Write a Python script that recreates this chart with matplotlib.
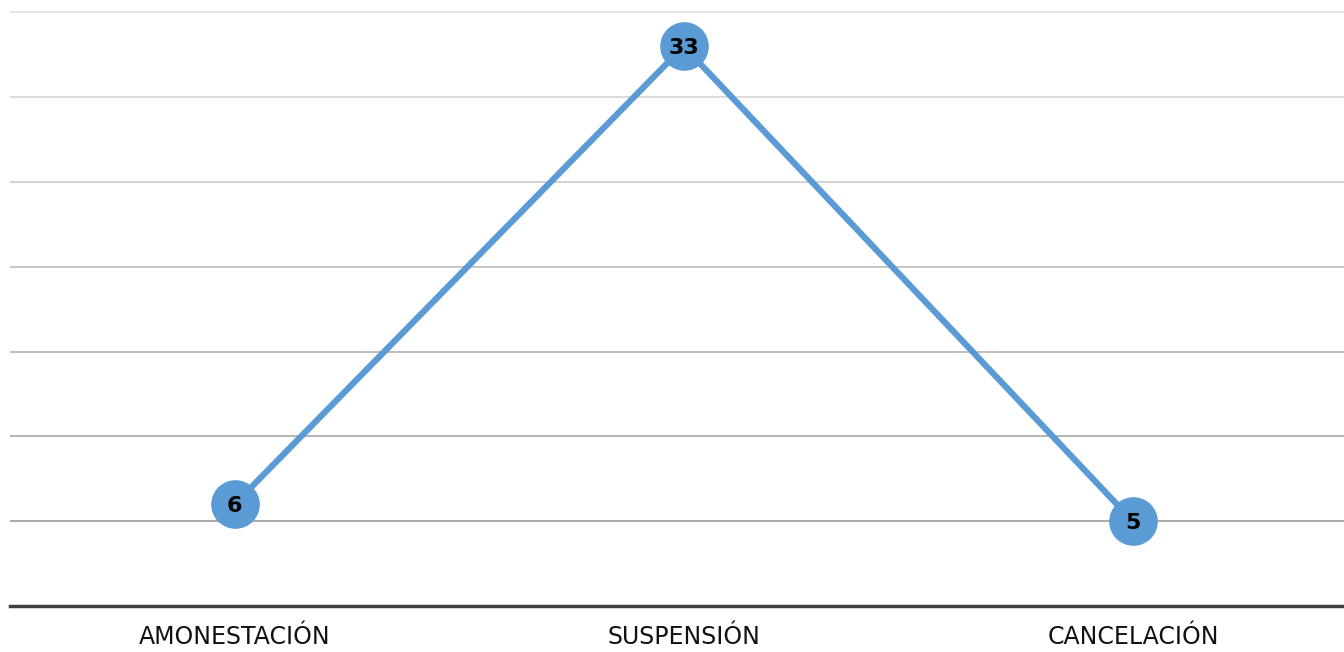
import numpy as np
import matplotlib.pyplot as plt

categories = ['AMONESTACIÓN', 'SUSPENSIÓN', 'CANCELACIÓN']
values = [6, 33, 5]
grid_levels = [5, 10, 15, 20, 25, 30, 35]

fig = plt.figure(figsize=(13.44, 6.52), dpi=100)
ax = fig.add_axes([10 / 1344, 46 / 652, 1334 / 1344, 606 / 652])

x = np.arange(len(categories))

# gridlines fade from dark (bottom) to light (top)
shades = np.linspace(0.64, 0.89, len(grid_levels))
for lvl, s in zip(grid_levels, shades):
    ax.axhline(lvl, color=(s, s, s), lw=1.3, zorder=1)

ax.plot(x, values, color='#5B9BD5', lw=4.5, marker='o', ms=34,
        markerfacecolor='#5B9BD5', markeredgecolor='#5B9BD5', zorder=3,
        solid_capstyle='round')
for xi, v in zip(x, values):
    ax.text(xi, v - 0.1, str(v), ha='center', va='center', fontsize=16,
            fontweight='bold', color='black', zorder=4)

ax.set_xlim(-0.5, 2.47)
ax.set_ylim(0, 35.73)
ax.set_xticks(x)
ax.set_xticklabels(categories, fontsize=17, color='#111111')
ax.tick_params(axis='x', length=0, pad=14)
ax.set_yticks([])
for side in ['left', 'right', 'top']:
    ax.spines[side].set_visible(False)
ax.spines['bottom'].set_color('#404040')
ax.spines['bottom'].set_linewidth(2.5)

plt.savefig('out.png', dpi=100)
